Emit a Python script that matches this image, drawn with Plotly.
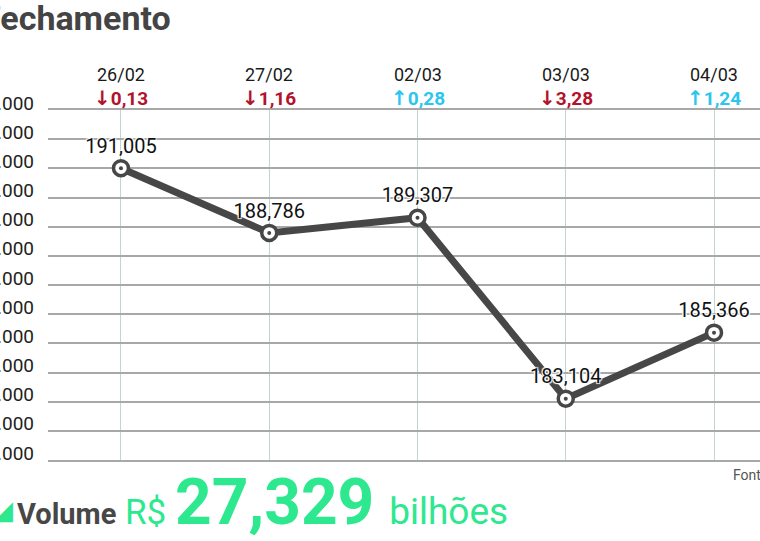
import plotly.graph_objects as go

# closing values (index points) per session
dates = ["26/02", "27/02", "02/03", "03/03", "04/03"]
closes = [191005, 188786, 189307, 183104, 185366]
close_labels = ["191,005", "188,786", "189,307", "183,104", "185,366"]
changes = ["0,13", "1,16", "0,28", "3,28", "1,24"]
directions = ["down", "down", "up", "down", "up"]
y_ticks = list(range(181000, 194000, 1000))
y_ticktext = [f"{v // 1000}.000" for v in y_ticks]
volume = "27,329"

W, H = 760, 541
L, R, T, B = 48, 0, 90, 81
pw = W - L - R
ph = H - T - B          # 370, the grid itself uses the lower 350px
GRID_H = 350
LABEL_UP = 7            # tick labels sit a little above their gridline


def px(xpix):
    return (xpix - L) / pw


def py(ypix):
    return (H - B - ypix) / ph


DARK = "#474747"
GREEN = "#2ee88f"
RED = "#b3122c"
CYAN = "#2bc6ef"
GRID = "#a8a8a8"

x = list(range(len(dates)))
xrange_ = [(L - 121) / 148.3, 4 + (W - 714) / 148.3]

fig = go.Figure()

fig.add_trace(go.Scatter(
    x=x, y=closes, mode="lines",
    line=dict(color=DARK, width=7),
    hoverinfo="skip", showlegend=False,
))
fig.add_trace(go.Scatter(
    x=x, y=closes, mode="markers+text",
    marker=dict(size=15, color="white", line=dict(color=DARK, width=3.5)),
    text=close_labels, textposition="top center",
    textfont=dict(family="Roboto, sans-serif", size=20, color="#111",
                  shadow="1px 1px 1px white, -1px -1px 1px white, 1px -1px 1px white, -1px 1px 1px white"),
    showlegend=False,
))
fig.add_trace(go.Scatter(
    x=x, y=closes, mode="markers",
    marker=dict(size=4, color=DARK),
    hoverinfo="skip", showlegend=False,
))
# invisible trace so the label axis (y2) is drawn
fig.add_trace(go.Scatter(
    x=[x[0]], y=[closes[0]], xaxis="x2", yaxis="y2", mode="markers",
    marker=dict(opacity=0), hoverinfo="skip", showlegend=False,
))

# date headers and daily change
for i, (d, c, s) in enumerate(zip(dates, changes, directions)):
    fig.add_annotation(x=i, y=py(75), xref="x", yref="paper", text=d,
                       xanchor="center", yanchor="middle", showarrow=False,
                       font=dict(family="Roboto, sans-serif", size=18, color="#1a1a1a"))
    arrow = "↓" if s == "down" else "↑"
    fig.add_annotation(x=i, y=py(98), xref="x", yref="paper",
                       text=f"<b><span style='font-family:DejaVu Sans;font-size:20px'>{arrow}</span>{c}</b>",
                       xanchor="center", yanchor="middle", showarrow=False,
                       font=dict(family="Roboto, sans-serif", size=19,
                                 color=RED if s == "down" else CYAN))

# title (partially cropped on the left)
fig.add_annotation(x=px(-20), y=py(18), xref="paper", yref="paper",
                   xanchor="left", yanchor="middle", showarrow=False,
                   text="<b>Fechamento</b>",
                   font=dict(family="Roboto, sans-serif", size=34, color="#444"))

# source (partially cropped on the right)
fig.add_annotation(x=px(731), y=py(475), xref="paper", yref="paper",
                   xanchor="left", yanchor="middle", showarrow=False,
                   text="Fonte: B3",
                   font=dict(family="Roboto, sans-serif", size=14, color="#555"))

# volume line
fig.add_annotation(x=px(-9), y=py(510), xref="paper", yref="paper",
                   xanchor="left", yanchor="middle", showarrow=False,
                   text="◢", font=dict(family="DejaVu Sans", size=26, color=GREEN))
fig.add_annotation(
    x=px(15), y=py(502), xref="paper", yref="paper",
    xanchor="left", yanchor="middle", showarrow=False,
    text=(f"<b><span style='color:{DARK};font-size:29px'>Volume</span></b>"
          f"<span style='color:{GREEN};font-size:35px'> R$ </span>"
          f"<b><span style='color:{GREEN};font-size:64px'>{volume}</span></b>"
          f"<span style='font-size:60px'> </span>"
          f"<span style='color:{GREEN};font-size:37px'>bilhões</span>"),
    font=dict(family="Roboto, sans-serif", size=30),
)

fig.update_layout(
    xaxis=dict(
        range=xrange_, tickvals=x, showticklabels=False,
        showgrid=True, gridcolor="#c2d4d4", gridwidth=1,
        showline=True, mirror=True, linecolor=GRID, linewidth=1.5,
        zeroline=False, ticks="", anchor="y",
    ),
    yaxis=dict(
        domain=[0, GRID_H / ph],
        range=[181000, 193000], tickvals=y_ticks, showticklabels=False,
        showgrid=True, gridcolor=GRID, gridwidth=1.5,
        zeroline=False, showline=False,
    ),
    xaxis2=dict(range=xrange_, visible=False, anchor="y2"),
    yaxis2=dict(
        domain=[LABEL_UP / ph, (GRID_H + LABEL_UP) / ph],
        anchor="free", position=0, side="left",
        range=[181000, 193000],
        tickvals=y_ticks, ticktext=y_ticktext, ticklabelstandoff=14,
        tickfont=dict(family="Roboto, sans-serif", size=19, color="#222"),
        showgrid=False, zeroline=False, showline=False, automargin=False,
    ),
    width=W, height=H,
    margin=dict(l=L, r=R, t=T, b=B),
    plot_bgcolor="rgba(0,0,0,0)", paper_bgcolor="white",
    showlegend=False,
)

fig.write_html("out.html", config={"displayModeBar": False},
               post_script="document.body.style.margin='0';")
